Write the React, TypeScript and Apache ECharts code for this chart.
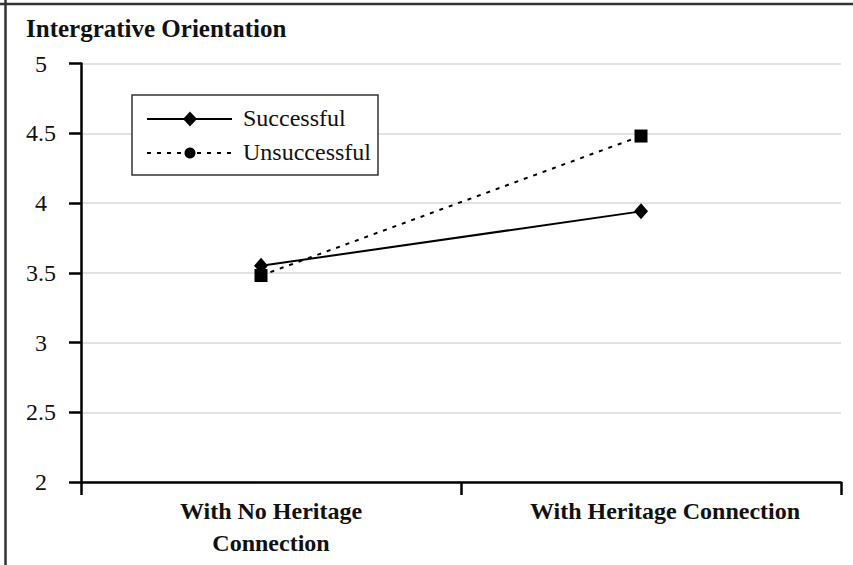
import React, { useEffect, useRef } from "react";
import * as echarts from "echarts";

const categories = ["With No Heritage\nConnection", "With Heritage Connection"];
const successful = [3.55, 3.94];
const unsuccessful = [3.48, 4.48];
const seriesNames = ["Successful", "Unsuccessful"];
const titleText = "Intergrative Orientation";
const yMin = 2;
const yMax = 5;
const yStep = 0.5;

const FONT = "'Liberation Serif', 'Times New Roman', 'DejaVu Serif', serif";

export default function App() {
  const ref = useRef<HTMLDivElement>(null);
  useEffect(() => {
    document.body.style.margin = "0";
    if (!ref.current) return;
    const chart = echarts.init(ref.current, undefined, { renderer: "svg" });
    const labelPads = [[0, 0, 0, 0], [0, 0, 0, 28]];
    const option: any = {
      animation: false,
      backgroundColor: "#ffffff",
      textStyle: { fontFamily: FONT },
      title: {
        text: titleText,
        left: 21,
        top: 11,
        textStyle: { fontFamily: FONT, fontSize: 25, fontWeight: "bold", color: "#111" },
      },
      grid: [
        { left: 81, right: 12, top: 63.5, bottom: 83 },
        { left: 71, right: 22, top: 63.5, bottom: 83 },
      ],
      xAxis: [
        {
          type: "category",
          gridIndex: 0,
          data: categories.map((c, i) => ({ value: c, textStyle: { padding: labelPads[i] } })),
          boundaryGap: true,
          axisLine: { show: true, lineStyle: { color: "#000", width: 2.5 } },
          axisTick: { show: true, length: 13, lineStyle: { color: "#000", width: 2.5 } },
          axisLabel: {
            color: "#111",
            fontFamily: FONT,
            fontSize: 24,
            fontWeight: "bold",
            lineHeight: 32,
            margin: 13,
            interval: 0,
          },
          splitLine: { show: false },
        },
        {
          type: "category",
          gridIndex: 1,
          data: categories,
          boundaryGap: true,
          show: false,
        },
      ],
      yAxis: [
        {
          type: "value",
          gridIndex: 0,
          min: yMin,
          max: yMax,
          interval: yStep,
          axisLine: { show: true, lineStyle: { color: "#000", width: 2.5 } },
          axisTick: { show: true, length: 12, lineStyle: { color: "#000", width: 2.5 } },
          axisLabel: {
            color: "#111",
            fontFamily: FONT,
            fontSize: 24,
            align: "center",
            margin: 40,
          },
          splitLine: { show: true, lineStyle: { color: "#d9d9d9", width: 1.5 } },
        },
        {
          type: "value",
          gridIndex: 1,
          min: yMin,
          max: yMax,
          interval: yStep,
          show: false,
        },
      ],
      series: [
        {
          name: seriesNames[0],
          type: "line",
          xAxisIndex: 1,
          yAxisIndex: 1,
          data: successful,
          symbol: "diamond",
          symbolSize: [14, 16],
          lineStyle: { color: "#000", width: 2, type: "solid" },
          itemStyle: { color: "#000" },
          z: 3,
        },
        {
          name: seriesNames[1],
          type: "line",
          xAxisIndex: 1,
          yAxisIndex: 1,
          data: unsuccessful,
          symbol: "rect",
          symbolSize: 13,
          lineStyle: { color: "#000", width: 2, type: [4, 6] },
          itemStyle: { color: "#000" },
          z: 4,
        },
      ],
      graphic: [
        { type: "line", shape: { x1: 0, y1: 4, x2: 853, y2: 4 }, style: { stroke: "#333", lineWidth: 2.5 } },
        { type: "line", shape: { x1: 5.5, y1: 0, x2: 5.5, y2: 565 }, style: { stroke: "#333", lineWidth: 2.5 } },
        {
          type: "rect",
          shape: { x: 132, y: 95, width: 246, height: 80 },
          style: { fill: "#fff", stroke: "#333", lineWidth: 1.5 },
          z: 10,
        },
        { type: "line", shape: { x1: 147, y1: 119, x2: 232, y2: 119 }, style: { stroke: "#000", lineWidth: 2 }, z: 11 },
        {
          type: "polygon",
          shape: { points: [[190, 111.5], [197, 119], [190, 126.5], [183, 119]] },
          style: { fill: "#000" },
          z: 12,
        },
        {
          type: "text",
          x: 243,
          y: 118,
          style: { text: seriesNames[0], fontFamily: FONT, fontSize: 24, fill: "#111", verticalAlign: "middle" },
          z: 12,
        },
        {
          type: "line",
          shape: { x1: 147, y1: 153, x2: 232, y2: 153 },
          style: { stroke: "#000", lineWidth: 2, lineDash: [4, 6] },
          z: 11,
        },
        { type: "circle", shape: { cx: 190, cy: 153, r: 5.5 }, style: { fill: "#000" }, z: 12 },
        {
          type: "text",
          x: 243,
          y: 152,
          style: { text: seriesNames[1], fontFamily: FONT, fontSize: 24, fill: "#111", verticalAlign: "middle" },
          z: 12,
        },
      ],
    };
    chart.setOption(option);
    return () => chart.dispose();
  }, []);
  return <div ref={ref} style={{ width: 853, height: 565 }} />;
}
